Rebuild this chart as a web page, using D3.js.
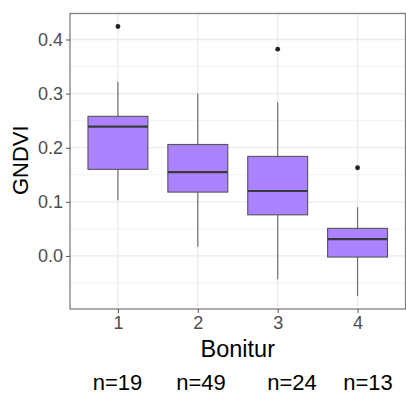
<!DOCTYPE html>
<html>
<head>
<meta charset="utf-8">
<script src="https://cdn.jsdelivr.net/npm/d3@7"></script>
<style>
  body { margin: 0; background: #fff; }
  svg { display: block; font-family: "Liberation Sans", Arial, sans-serif; }
</style>
</head>
<body>
<svg id="chart" width="406" height="394"></svg>
<script>
// ---- data ----
const categories = ["1", "2", "3", "4"];
const whiskerLow = [0.103, 0.017, -0.043, -0.074];
const q1 = [0.160, 0.118, 0.076, -0.002];
const median = [0.239, 0.155, 0.120, 0.031];
const q3 = [0.258, 0.206, 0.184, 0.051];
const whiskerHigh = [0.322, 0.300, 0.284, 0.090];
const outliers = [[0.424], [], [0.382], [0.163]];
const counts = [19, 49, 24, 13];
const yTicks = [0.0, 0.1, 0.2, 0.3, 0.4];
const yMinor = [-0.05, 0.05, 0.15, 0.25, 0.35];

const boxes = categories.map((c, i) => ({
  cat: c, lo: whiskerLow[i], q1: q1[i], med: median[i], q3: q3[i],
  hi: whiskerHigh[i], out: outliers[i], n: counts[i]
}));

// ---- layout ----
const panel = { left: 70, right: 405.5, top: 13.5, bottom: 309 };
const svg = d3.select("#chart");

// ggplot discrete expansion: 0.6 units on each side
const x = d3.scaleLinear()
  .domain([0.4, categories.length + 0.6])
  .range([panel.left, panel.right]);
const cx = c => x(categories.indexOf(c) + 1);
const boxW = (x(1.75) - x(1));

const y = d3.scaleLinear()
  .domain([-0.098, 0.448])
  .range([panel.bottom, panel.top]);

// ---- grid ----
const grid = svg.append("g");
grid.selectAll(".minor").data(yMinor).enter().append("line")
  .attr("x1", panel.left).attr("x2", panel.right)
  .attr("y1", d => y(d)).attr("y2", d => y(d))
  .attr("stroke", "#f2f2f2").attr("stroke-width", 1);
grid.selectAll(".major").data(yTicks).enter().append("line")
  .attr("x1", panel.left).attr("x2", panel.right)
  .attr("y1", d => y(d)).attr("y2", d => y(d))
  .attr("stroke", "#ebebeb").attr("stroke-width", 1.3);
grid.selectAll(".vx").data(categories).enter().append("line")
  .attr("x1", d => cx(d)).attr("x2", d => cx(d))
  .attr("y1", panel.top).attr("y2", panel.bottom)
  .attr("stroke", "#ebebeb").attr("stroke-width", 1.3);

// ---- boxes ----
const g = svg.append("g").selectAll("g").data(boxes).enter().append("g");

g.append("line")
  .attr("x1", d => cx(d.cat)).attr("x2", d => cx(d.cat))
  .attr("y1", d => y(d.q3)).attr("y2", d => y(d.hi))
  .attr("stroke", "#666").attr("stroke-width", 1.1);
g.append("line")
  .attr("x1", d => cx(d.cat)).attr("x2", d => cx(d.cat))
  .attr("y1", d => y(d.lo)).attr("y2", d => y(d.q1))
  .attr("stroke", "#666").attr("stroke-width", 1.1);

g.append("rect")
  .attr("x", d => cx(d.cat) - boxW / 2)
  .attr("width", boxW)
  .attr("y", d => y(d.q3))
  .attr("height", d => y(d.q1) - y(d.q3))
  .attr("fill", "#ab82ff")
  .attr("stroke", "#555")
  .attr("stroke-width", 1.1);

g.append("line")
  .attr("x1", d => cx(d.cat) - boxW / 2).attr("x2", d => cx(d.cat) + boxW / 2)
  .attr("y1", d => y(d.med)).attr("y2", d => y(d.med))
  .attr("stroke", "#3a3a3a").attr("stroke-width", 2.2);

g.selectAll("circle").data(d => d.out.map(v => ({ cat: d.cat, v }))).enter()
  .append("circle")
  .attr("cx", d => cx(d.cat)).attr("cy", d => y(d.v))
  .attr("r", 2.4).attr("fill", "#222");

// ---- panel border ----
svg.append("rect")
  .attr("x", panel.left).attr("y", panel.top)
  .attr("width", panel.right - panel.left)
  .attr("height", panel.bottom - panel.top)
  .attr("fill", "none").attr("stroke", "#7f7f7f").attr("stroke-width", 1.3);

// ---- axes ----
const yAxis = svg.append("g")
  .attr("transform", `translate(${panel.left},0)`)
  .call(d3.axisLeft(y).tickValues(yTicks).tickFormat(d3.format(".1f")).tickSize(4).tickPadding(3));
yAxis.select(".domain").remove();
yAxis.selectAll("line").attr("stroke", "#555");
yAxis.selectAll("text").attr("font-size", 18).attr("fill", "#4d4d4d")
  .attr("font-family", "Liberation Sans, Arial, sans-serif");

const xAxis = svg.append("g")
  .attr("transform", `translate(0,${panel.bottom})`)
  .call(d3.axisBottom(x).tickValues(categories.map((c, i) => i + 1))
    .tickFormat((d, i) => categories[i]).tickSize(4).tickPadding(3));
xAxis.select(".domain").remove();
xAxis.selectAll("line").attr("stroke", "#555");
xAxis.selectAll("text").attr("font-size", 18).attr("fill", "#4d4d4d")
  .attr("font-family", "Liberation Sans, Arial, sans-serif");

// ---- titles ----
svg.append("text")
  .attr("transform", `translate(28,${(panel.top + panel.bottom) / 2 - 1}) rotate(-90)`)
  .attr("text-anchor", "middle")
  .attr("font-size", 22)
  .attr("fill", "#000")
  .text("GNDVI");

svg.append("text")
  .attr("x", (panel.left + panel.right) / 2)
  .attr("y", 357)
  .attr("text-anchor", "middle")
  .attr("font-size", 23.5)
  .attr("fill", "#000")
  .text("Bonitur");

// ---- counts under the axis ----
const nCenters = [117.5, 201, 292, 368];
svg.append("g").selectAll("text").data(boxes).enter().append("text")
  .attr("x", (d, i) => nCenters[i])
  .attr("y", 390)
  .attr("text-anchor", "middle")
  .attr("font-size", 22)
  .attr("fill", "#000")
  .text(d => "n=" + d.n);
</script>
</body>
</html>
